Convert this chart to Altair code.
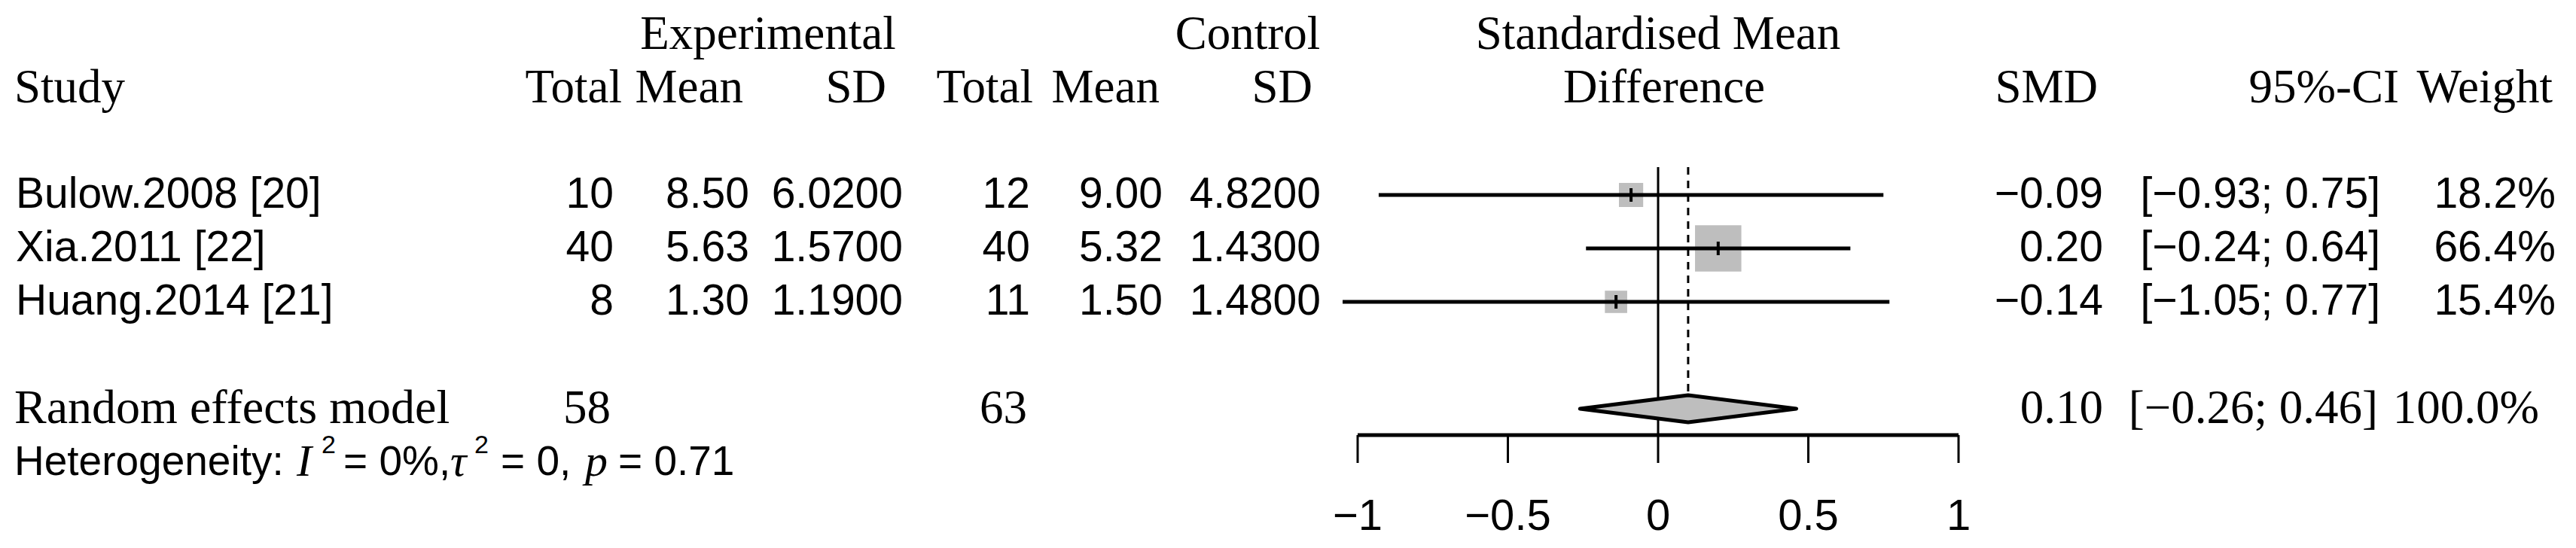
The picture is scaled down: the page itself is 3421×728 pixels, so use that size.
import altair as alt
import pandas as pd

# ---------------- data ----------------
studies = ["Bulow.2008 [20]", "Xia.2011 [22]", "Huang.2014 [21]"]
exp_total = [10, 40, 8]
exp_mean = [8.50, 5.63, 1.30]
exp_sd = [6.02, 1.57, 1.19]
ctrl_total = [12, 40, 11]
ctrl_mean = [9.00, 5.32, 1.50]
ctrl_sd = [4.82, 1.43, 1.48]
smd = [-0.09, 0.20, -0.14]
ci_lower = [-0.93, -0.24, -1.05]
ci_upper = [0.75, 0.64, 0.77]
weight = [18.2, 66.4, 15.4]

pooled_label = "Random effects model"
pooled_exp_total = 58
pooled_ctrl_total = 63
pooled_smd = 0.10
pooled_lower = -0.26
pooled_upper = 0.46
pooled_weight = 100.0

het_I2 = "0%"
het_tau2 = "0"
het_p = "0.71"

axis_ticks = [-1, -0.5, 0, 0.5, 1]
axis_tick_labels = ["\u22121", "\u22120.5", "0", "0.5", "1"]

header_top = ["Experimental", "Control", "Standardised Mean"]
header_cols = ["Study", "Total", "Mean", "SD", "Total", "Mean", "SD",
               "Difference", "SMD", "95%-CI", "Weight"]

# ---------------- layout / style ----------------
SANS = "Liberation Sans"
SERIF = "Liberation Serif"
FS = 57
HFS = 63
GREY = "#BEBEBE"

study_rows = [3, 4, 5]
pooled_row = 7
het_row = 8

xs = alt.Scale(domain=[-1, 1], range=[1795, 2593])
ys = alt.Scale(domain=[0, 8], range=[38, 606])


def fmt(v, d):
    return f"{v:.{d}f}".replace("-", "\u2212")


def ci_txt(lo, hi):
    return f"[{fmt(lo, 2)}; {fmt(hi, 2)}]"


rows = pd.DataFrame({
    "row": study_rows,
    "study": studies,
    "et": [str(v) for v in exp_total],
    "em": [fmt(v, 2) for v in exp_mean],
    "es": [fmt(v, 4) for v in exp_sd],
    "ct": [str(v) for v in ctrl_total],
    "cm": [fmt(v, 2) for v in ctrl_mean],
    "cs": [fmt(v, 4) for v in ctrl_sd],
    "smd": smd,
    "lo": ci_lower,
    "hi": ci_upper,
    "w": weight,
    "smd_t": [fmt(v, 2) for v in smd],
    "ci_t": [ci_txt(a, b) for a, b in zip(ci_lower, ci_upper)],
    "w_t": [f"{v:.1f}%" for v in weight],
})
rows["tk_lo"] = rows["row"] - 0.127
rows["tk_hi"] = rows["row"] + 0.127

pooled = pd.DataFrame({
    "row": [pooled_row],
    "label": [pooled_label],
    "et": [str(pooled_exp_total)],
    "ct": [str(pooled_ctrl_total)],
    "smd_t": [fmt(pooled_smd, 2)],
    "ci_t": [ci_txt(pooled_lower, pooled_upper)],
    "w_t": [f"{pooled_weight:.1f}%"],
})

half = 18 / 71.0
diamond = pd.DataFrame({
    "x": [pooled_lower, pooled_smd, pooled_upper],
    "y1": [pooled_row, pooled_row - half, pooled_row],
    "y2": [pooled_row, pooled_row + half, pooled_row],
})


def txt(df, field, xpx, align, font=SANS, size=FS, style="normal"):
    return alt.Chart(df).mark_text(
        align=align, baseline="middle", font=font, fontSize=size,
        fontStyle=style, color="black"
    ).encode(
        x=alt.value(xpx),
        y=alt.Y("row:Q", scale=ys, axis=None),
        text=alt.Text(f"{field}:N"),
    )


layers = []

# header rows
h0 = pd.DataFrame({"row": [0], "t0": [header_top[0]], "t1": [header_top[1]], "t2": [header_top[2]]})
layers += [
    txt(h0, "t0", 1012, "center", SERIF, HFS),
    txt(h0, "t1", 1649, "center", SERIF, HFS),
    txt(h0, "t2", 2194, "center", SERIF, HFS),
]
h1 = pd.DataFrame({"row": [1], **{f"c{i}": [t] for i, t in enumerate(header_cols)}})
h1_pos = [(11, "left"), (818, "right"), (979, "right"), (1169, "right"),
          (1364, "right"), (1532, "right"), (1735, "right"), (2202, "center"),
          (2778, "right"), (3178, "right"), (3382, "right")]
for i, (px, al) in enumerate(h1_pos):
    layers.append(txt(h1, f"c{i}", px, al, SERIF, HFS))

# study rows text
for field, px, al in [("study", 13, "left"), ("et", 807, "right"), ("em", 987, "right"),
                      ("es", 1191, "right"), ("ct", 1360, "right"), ("cm", 1536, "right"),
                      ("cs", 1746, "right"), ("smd_t", 2785, "right"), ("ci_t", 3153, "right"),
                      ("w_t", 3386, "right")]:
    layers.append(txt(rows, field, px, al))

# pooled row text
layers.append(txt(pooled, "label", 11, "left", SERIF, 64))
for field, px, al in [("et", 803, "right"), ("ct", 1356, "right"),
                      ("smd_t", 2785, "right"), ("ci_t", 3150, "right"), ("w_t", 3364, "right")]:
    layers.append(txt(pooled, field, px, al, SERIF, HFS))

# heterogeneity line
HET = 55
het = pd.DataFrame({"row": [het_row], "a": ["Heterogeneity:"], "I": ["I"],
                    "b": [f"= {het_I2},"], "tau": ["\u03c4"], "c": [f"= {het_tau2},"],
                    "p": ["p"], "d": [f"= {het_p}"]})
layers += [
    txt(het, "a", 11, "left", SANS, HET),
    txt(het, "I", 386, "left", SERIF, 60, "italic"),
    txt(het, "b", 448, "left", SANS, HET),
    txt(het, "tau", 590, "left", SERIF, 60, "italic"),
    txt(het, "c", 657, "left", SANS, HET),
    txt(het, "p", 769, "left", SERIF, 60, "italic"),
    txt(het, "d", 813, "left", SANS, HET),
]
sup = pd.DataFrame({"s1": ["2"], "s2": ["2"]})
layers += [
    alt.Chart(sup).mark_text(align="left", baseline="alphabetic", font=SANS, fontSize=34, color="black")
    .encode(x=alt.value(419), y=alt.value(594), text="s1:N"),
    alt.Chart(sup).mark_text(align="left", baseline="alphabetic", font=SANS, fontSize=34, color="black")
    .encode(x=alt.value(622), y=alt.value(594), text="s2:N"),
]

# reference lines
layers.append(
    alt.Chart(pd.DataFrame({"x": [0]})).mark_rule(strokeWidth=3, color="black")
    .encode(x=alt.X("x:Q", scale=xs, axis=None), y=alt.value(214), y2=alt.value(570))
)
layers.append(
    alt.Chart(pd.DataFrame({"x": [pooled_smd]})).mark_rule(strokeWidth=3, color="black", strokeDash=[10, 8])
    .encode(x=alt.X("x:Q", scale=xs, axis=None), y=alt.value(214), y2=alt.value(517))
)

# weight squares
layers.append(
    alt.Chart(rows).mark_square(filled=True, color=GREY, opacity=1)
    .encode(x=alt.X("smd:Q", scale=xs, axis=None), y=alt.Y("row:Q", scale=ys, axis=None),
            size=alt.Size("w:Q", scale=alt.Scale(domain=[0, 100], range=[0, 5700]), legend=None))
)
# CI lines
layers.append(
    alt.Chart(rows).mark_rule(strokeWidth=5, color="black")
    .encode(x=alt.X("lo:Q", scale=xs, axis=None), x2="hi:Q", y=alt.Y("row:Q", scale=ys, axis=None))
)
# point estimate ticks
layers.append(
    alt.Chart(rows).mark_rule(strokeWidth=4, color="black")
    .encode(x=alt.X("smd:Q", scale=xs, axis=None), y=alt.Y("tk_lo:Q", scale=ys, axis=None), y2="tk_hi:Q")
)
# diamond
layers.append(
    alt.Chart(diamond).mark_area(fill=GREY, stroke="black", strokeWidth=5, strokeJoin="round",
                                 orient="vertical", opacity=1)
    .encode(x=alt.X("x:Q", scale=xs, axis=None), y=alt.Y("y1:Q", scale=ys, axis=None), y2="y2:Q")
)

# axis
ticks = pd.DataFrame({"v": axis_ticks, "lab": axis_tick_labels})
layers.append(
    alt.Chart(pd.DataFrame({"a": [axis_ticks[0]], "b": [axis_ticks[-1]]})).mark_rule(strokeWidth=5, color="black")
    .encode(x=alt.X("a:Q", scale=xs, axis=None), x2="b:Q", y=alt.value(570))
)
layers.append(
    alt.Chart(ticks).mark_rule(strokeWidth=3, color="black")
    .encode(x=alt.X("v:Q", scale=xs, axis=None), y=alt.value(570), y2=alt.value(607))
)
layers.append(
    alt.Chart(ticks).mark_text(align="center", baseline="middle", font=SANS, fontSize=58, color="black")
    .encode(x=alt.X("v:Q", scale=xs, axis=None), y=alt.value(679), text="lab:N")
)

chart = alt.layer(*layers).properties(
    width=3405, height=712, padding=0,
    autosize=alt.AutoSizeParams(type="none"),
    background="white",
).configure_view(stroke=None)

chart.save("out.html", embed_options={"renderer": "svg", "actions": False})
